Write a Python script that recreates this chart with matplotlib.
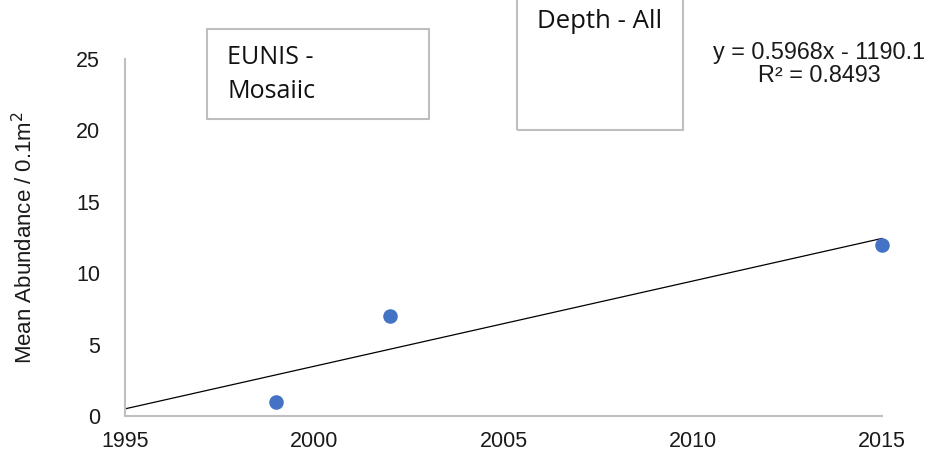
import matplotlib
matplotlib.use("Agg")
import matplotlib.pyplot as plt
from matplotlib.patches import Rectangle
import numpy as np

# --- dados ---
anos = [1999, 2002, 2015]
abundancia = [1, 7, 12]
x_ticks = [1995, 2000, 2005, 2010, 2015]
y_ticks = [0, 5, 10, 15, 20, 25]

plt.rcParams['font.family'] = ['Liberation Sans', 'DejaVu Sans']

fig = plt.figure(figsize=(9.36, 4.62), dpi=100)
ax = fig.add_axes([125/936, 1 - 416/462, (882 - 125)/936, (416 - 59)/462])

# pontos
ax.scatter(anos, abundancia, s=110, color='#4472C4', zorder=3, linewidths=0, clip_on=False)

# linha de tendência (linear)
a, b = np.polyfit(anos, abundancia, 1)
pred = np.polyval([a, b], anos)
r2 = 1 - np.sum((np.array(abundancia) - pred) ** 2) / np.sum((np.array(abundancia) - np.mean(abundancia)) ** 2)
xt = np.array([x_ticks[0], x_ticks[-1]])
ax.plot(xt, a * xt + b, color='black', linewidth=0.9, zorder=2, clip_on=False)

ax.set_xlim(x_ticks[0], x_ticks[-1])
ax.set_ylim(y_ticks[0], y_ticks[-1])
ax.set_xticks(x_ticks)
ax.set_yticks(y_ticks)
ax.tick_params(length=0, labelsize=15.5, colors='#1a1a1a')
ax.tick_params(axis='x', pad=11)
ax.tick_params(axis='y', pad=18)
for s in ['top', 'right']:
    ax.spines[s].set_visible(False)
for s in ['left', 'bottom']:
    ax.spines[s].set_color('#bfbfbf')
    ax.spines[s].set_linewidth(1.5)
ax.patch.set_alpha(0)

ax.set_ylabel('Mean Abundance / 0.1m$^2$', fontsize=16, color='#1a1a1a')
ax.yaxis.set_label_coords(-0.116, 0.5)

# equação e R²
fig.text(819/936, 1 - 52/462, f'y = {a:.4f}x - {abs(b):.1f}', ha='center', va='center',
         fontsize=16.8, color='#1a1a1a')
fig.text(819/936, 1 - 76/462, f'R² = {r2:.4f}', ha='center', va='center',
         fontsize=16.8, color='#1a1a1a')

# caixas de texto
def caixa(x0, y0, x1, y1):
    fig.patches.append(Rectangle((x0/936, 1 - y1/462), (x1 - x0)/936, (y1 - y0)/462,
                                 transform=fig.transFigure, fill=False,
                                 edgecolor='#bfbfbf', linewidth=1.5))

fonte_caixa = ['Open Sans', 'DejaVu Sans']
caixa(207, 29, 429, 119)
fig.text(227/936, 1 - 57/462, 'EUNIS -', ha='left', va='center',
         fontsize=18, color='#111111', family=fonte_caixa)
fig.text(227/936, 1 - 92/462, 'Mosaiic', ha='left', va='center',
         fontsize=18, color='#111111', family=fonte_caixa)

caixa(517, -5, 683, 130)
fig.text(537/936, 1 - 22/462, 'Depth - All', ha='left', va='center',
         fontsize=18.5, color='#111111', family=fonte_caixa)

fig.savefig('out.png', dpi=100, facecolor='white')
